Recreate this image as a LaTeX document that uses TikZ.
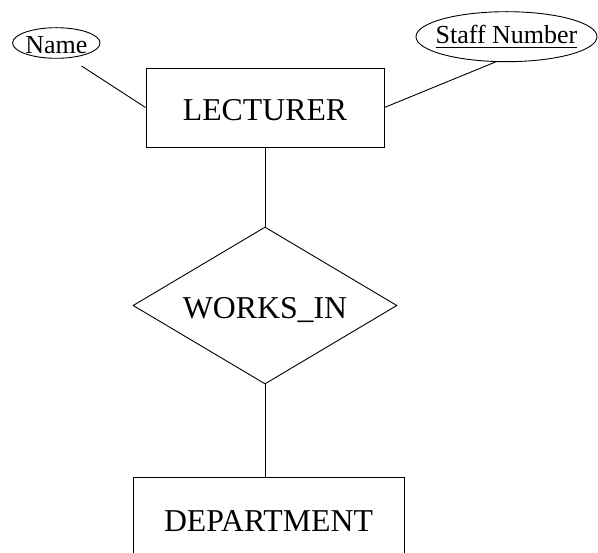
\documentclass[tikz,border=0pt]{standalone}
\usepackage{fontspec}
\setmainfont{Liberation Serif}
\usetikzlibrary{shapes.geometric}

% underline drawn as part of the key attribute's label
\newcommand\keyattr[1]{\vtop{\hbox{#1}\kern3.8pt\hrule height 0.9pt}}

\tikzset{
  er/.style={draw=black, line width=0.9pt, inner sep=0pt, text depth=0pt},
  entity/.style={er, rectangle, font=\fontsize{31.8}{36}\selectfont, text height=27pt},
  relation/.style={er, diamond, aspect=1.68, font=\fontsize{31.8}{36}\selectfont, text height=27pt},
  attribute/.style={er, ellipse, font=\fontsize{26}{30}\selectfont},
  link/.style={draw=black, line width=0.9pt}
}

\begin{document}
\begin{tikzpicture}[x=1pt, y=-1pt]
  \useasboundingbox (0,0) rectangle (598,553);

  % entities and relationship
  \node[entity, minimum width=238pt, minimum height=79pt] (lect) at (265,107.5) {LECTURER};
  \node[relation, minimum width=264pt, minimum height=157pt] (works) at (265,305.5) {WORKS\_IN};
  \node[entity, minimum width=271pt, minimum height=82.4pt] (dept) at (268.5,518.2) {DEPARTMENT};

  % attributes
  \node[attribute, minimum width=87.4pt, minimum height=30.6pt, text height=20.6pt, inner xsep=-6pt] (name) at (56.3,43) {Name};
  \node[attribute, minimum width=181pt, minimum height=50pt, text height=13.2pt, inner xsep=-8pt] (staff) at (506.5,36.7) {\keyattr{Staff Number}};

  % free ends of the attribute links
  \coordinate (namelink) at (81.5,66);
  \coordinate (stafflink) at (496.7,61.5);

  % connectors
  \draw[link] (namelink) -- (lect.west);
  \draw[link] (stafflink) -- (lect.east);
  \draw[link] (lect.south) -- (works.north);
  \draw[link] (works.south) -- (works.south |- dept.north);
\end{tikzpicture}
\end{document}
